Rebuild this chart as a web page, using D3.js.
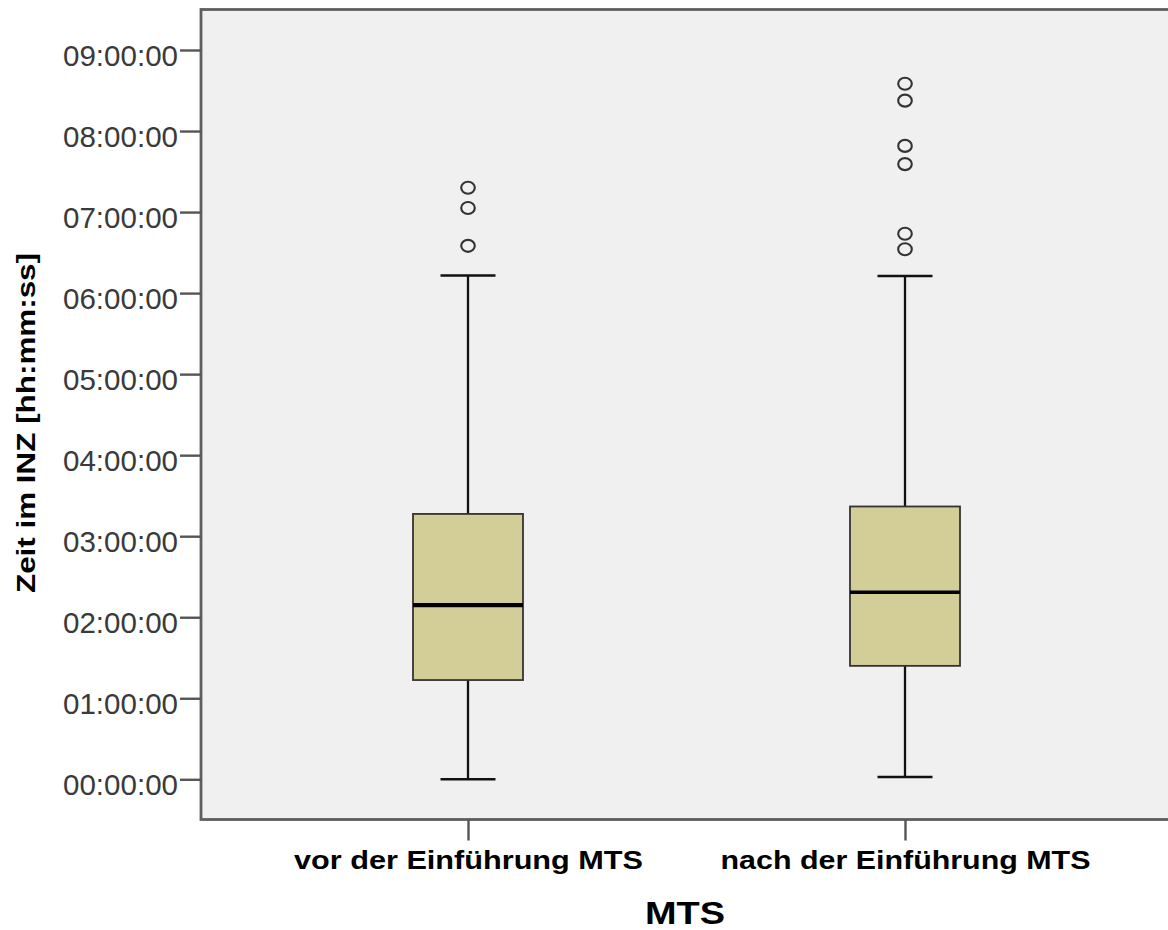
<!DOCTYPE html>
<html>
<head>
<meta charset="utf-8">
<script src="https://cdn.jsdelivr.net/npm/d3@7"></script>
<style>
  html, body { margin: 0; padding: 0; background: #ffffff; }
  svg { display: block; }
  text { font-family: "Liberation Sans", Arial, sans-serif; }
</style>
</head>
<body>
<svg id="chart" width="1168" height="930"></svg>
<script>
// Boxplot data: time spent in the ED (hh:mm:ss), before / after MTS introduction
const categories   = ["vor der Einführung MTS", "nach der Einführung MTS"];
const whiskerLow   = ["00:00:00", "00:01:40"];
const quartile1    = ["01:13:30", "01:24:00"];
const medians      = ["02:09:00", "02:18:30"];
const quartile3    = ["03:16:30", "03:22:00"];
const whiskerHigh  = ["06:13:00", "06:12:40"];
const outliers     = [
  ["07:18:00", "07:03:00", "06:35:00"],
  ["08:35:00", "08:22:30", "07:49:00", "07:35:30", "06:44:00", "06:32:30"]
];
const yTicks       = [0, 1, 2, 3, 4, 5, 6, 7, 8, 9];

const toHours = s => { const [h, m, sec] = s.split(":").map(Number); return h + m / 60 + sec / 3600; };
const pad2 = n => String(n).padStart(2, "0");
const fmtTick = h => pad2(h) + ":00:00";

const groups = categories.map((c, i) => ({
  name: c,
  lo: toHours(whiskerLow[i]),
  q1: toHours(quartile1[i]),
  med: toHours(medians[i]),
  q3: toHours(quartile3[i]),
  hi: toHours(whiskerHigh[i]),
  out: outliers[i].map(toHours)
}));

const svg = d3.select("#chart");
const frame = { left: 201, top: 9.5, bottom: 819.5, right: 1200 };

const y = d3.scaleLinear().domain([0, 9]).range([779.3, 50]);
const x = d3.scalePoint().domain(categories).range([468, 905]);

// plot background with frame (right side runs off the canvas)
svg.append("rect")
  .attr("x", frame.left).attr("y", frame.top)
  .attr("width", frame.right - frame.left).attr("height", frame.bottom - frame.top)
  .attr("fill", "#f0f0f0")
  .attr("stroke", "#5e5e5e").attr("stroke-width", 2.8);

// y axis
const yAxis = svg.append("g")
  .attr("transform", `translate(${frame.left},0)`)
  .call(d3.axisLeft(y).tickValues(yTicks).tickFormat(fmtTick).tickSize(21).tickPadding(2));
yAxis.select(".domain").remove();
yAxis.selectAll(".tick line").attr("stroke", "#555").attr("stroke-width", 2.4);
yAxis.selectAll(".tick text")
  .attr("font-family", "'Liberation Sans', Arial, sans-serif")
  .attr("font-size", 29.5)
  .attr("fill", "#3a3a3a")
  .attr("dy", null)
  .attr("y", 15)
  .attr("textLength", 115)
  .attr("lengthAdjust", "spacingAndGlyphs");

// x axis
const xAxis = svg.append("g")
  .attr("transform", `translate(0,${frame.bottom})`)
  .call(d3.axisBottom(x).tickSize(21).tickPadding(0));
xAxis.select(".domain").remove();
xAxis.selectAll(".tick line").attr("stroke", "#555").attr("stroke-width", 2.4);
const xLabelLen = [349, 370];
xAxis.selectAll(".tick text")
  .attr("font-family", "'Liberation Sans', Arial, sans-serif")
  .attr("font-size", 26)
  .attr("font-weight", "bold")
  .attr("fill", "#000")
  .attr("dy", null)
  .attr("y", 49)
  .attr("textLength", (d, i) => xLabelLen[i])
  .attr("lengthAdjust", "spacingAndGlyphs");

// axis titles
svg.append("text")
  .attr("x", 685).attr("y", 924)
  .attr("text-anchor", "middle")
  .attr("font-size", 31).attr("font-weight", "bold").attr("fill", "#000")
  .attr("textLength", 80).attr("lengthAdjust", "spacingAndGlyphs")
  .text("MTS");

svg.append("text")
  .attr("transform", "translate(35,423) rotate(-90)")
  .attr("text-anchor", "middle")
  .attr("font-size", 26).attr("font-weight", "bold").attr("fill", "#000")
  .attr("textLength", 340).attr("lengthAdjust", "spacingAndGlyphs")
  .text("Zeit im INZ [hh:mm:ss]");

// boxes
const boxW = 110, capW = 55;
const g = svg.selectAll(".box").data(groups).join("g").attr("class", "box");

g.append("line")
  .attr("x1", d => x(d.name)).attr("x2", d => x(d.name))
  .attr("y1", d => y(d.hi)).attr("y2", d => y(d.q3))
  .attr("stroke", "#111").attr("stroke-width", 2.3);
g.append("line")
  .attr("x1", d => x(d.name)).attr("x2", d => x(d.name))
  .attr("y1", d => y(d.q1)).attr("y2", d => y(d.lo))
  .attr("stroke", "#111").attr("stroke-width", 2.3);

["hi", "lo"].forEach(k => {
  g.append("line")
    .attr("x1", d => x(d.name) - capW / 2).attr("x2", d => x(d.name) + capW / 2)
    .attr("y1", d => y(d[k])).attr("y2", d => y(d[k]))
    .attr("stroke", "#111").attr("stroke-width", 2.4);
});

g.append("rect")
  .attr("x", d => x(d.name) - boxW / 2)
  .attr("y", d => y(d.q3))
  .attr("width", boxW)
  .attr("height", d => y(d.q1) - y(d.q3))
  .attr("fill", "#d3ce97")
  .attr("stroke", "#333").attr("stroke-width", 1.8);

g.append("line")
  .attr("x1", d => x(d.name) - boxW / 2).attr("x2", d => x(d.name) + boxW / 2)
  .attr("y1", d => y(d.med)).attr("y2", d => y(d.med))
  .attr("stroke", "#000").attr("stroke-width", (d, i) => i === 0 ? 4.2 : 3.4);

// outliers
g.each(function (d) {
  d3.select(this).selectAll("ellipse").data(d.out).join("ellipse")
    .attr("cx", x(d.name))
    .attr("cy", v => y(v))
    .attr("rx", 6.8).attr("ry", 6)
    .attr("fill", "none")
    .attr("stroke", "#333").attr("stroke-width", 2.1);
});
</script>
</body>
</html>
